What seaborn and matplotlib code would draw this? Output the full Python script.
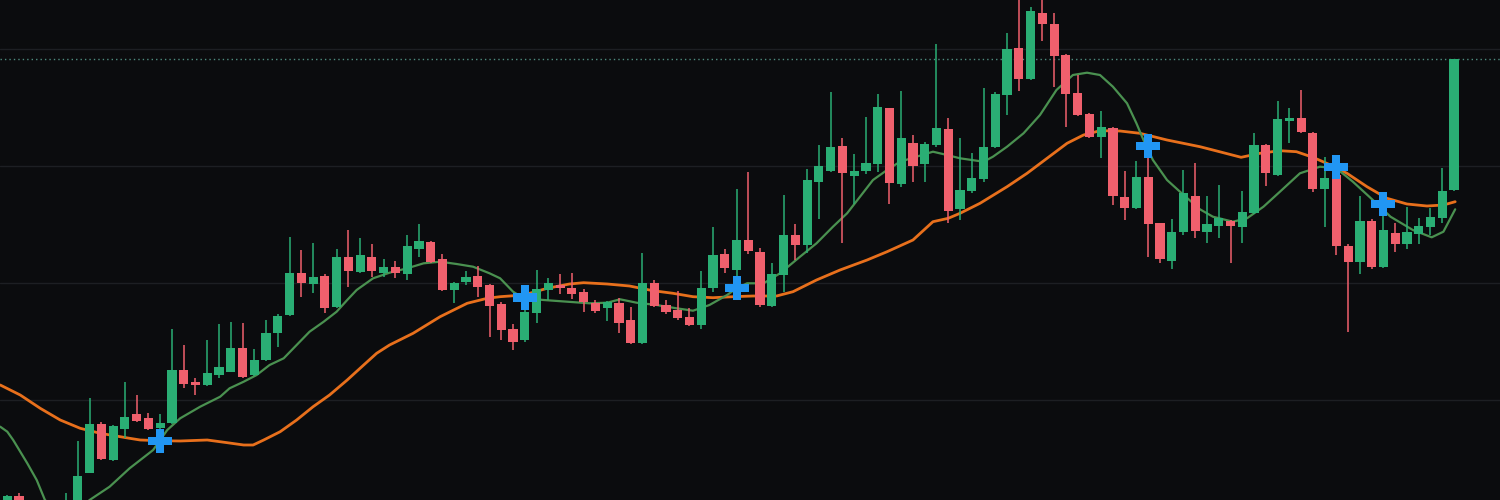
import numpy as np
import pandas as pd
import matplotlib
matplotlib.use("Agg")
import matplotlib.pyplot as plt
import seaborn as sns

# ---- data (price units) ----
opens = [-5, 4, -10, -30, -15, -20, -3, 27.3, 75.7, 40, 71.5, 85.7, 81.7, 72.3, 77.3, 130, 118.3, 114.7, 125.3, 128.5,
         151.7, 125, 140, 167, 184.7, 227.3, 215.7, 224.3, 192.7, 243.3, 228.3, 243.3, 226.7, 233.3, 226, 250.7, 258.3, 240.7, 210, 217.7,
         224, 215, 196, 170.7, 160, 186.7, 210, 215, 212.3, 208.3, 196.7, 191.7, 196.7, 180, 157.3, 216.7, 195, 190, 182.7, 175,
         212, 246.3, 230.3, 260, 248.3, 194, 225, 265, 255, 318.3, 329.3, 354, 324, 329.3, 336, 391.7, 316, 357.3, 336, 355,
         370.7, 290.7, 309.3, 321, 353.3, 405, 451.7, 421, 487.3, 476, 445, 407.3, 385.7, 363.3, 372.3, 303.3, 291.7, 322.7, 276.7, 239.3,
         268, 303.7, 267.7, 274.3, 279.3, 273.3, 286.7, 355, 325, 379.3, 381.7, 367.3, 310.7, 325, 254, 238.3, 279.3, 232.7, 267.3, 256,
         266, 273.3, 281.7, 310]
highs = [5, 6.7, -5, -8, -10, 6.7, 59, 102.3, 78.3, 75, 118.3, 105, 86.7, 85.7, 170.7, 155, 122.3, 160, 176, 178.5,
         177.3, 150.7, 180, 186, 263.3, 250, 256.7, 226, 250.7, 270, 261.7, 255.7, 241.3, 239, 265, 276, 259.3, 246, 218, 229.3,
         234, 216, 198.3, 176, 200, 230, 221.7, 226, 227.3, 210.7, 200, 199, 201.7, 193.3, 247.3, 220, 200, 209.3, 191.7, 229.3,
         272.7, 251.2, 310.7, 328.3, 251.7, 236.7, 305, 276, 330.7, 355, 408.3, 361.7, 346, 383.3, 406, 392, 409.3, 365, 358.3, 456,
         381.7, 361.7, 346.7, 411.7, 408, 466.7, 510, 493.3, 505, 487.3, 446, 425, 386.7, 389.3, 373, 329.3, 339.3, 345, 277.5, 280.7,
         329.8, 336.7, 304, 315, 280, 309.3, 367.3, 356, 399.3, 391.7, 410, 368, 343.3, 335, 256, 304, 281, 290, 276.7, 293.3,
         282.3, 291.7, 331.7, 441]
lows = [-8, -6, -30, -35, -32, -24, -6, 27, 40, 39, 61.7, 78, 70, 68, 76, 111.7, 105, 114, 121.7, 128,
        122, 124, 139, 153.3, 184, 203.3, 207.3, 187.3, 192, 212.7, 227, 222.7, 223.3, 222.3, 220, 243.3, 237, 209, 196.7, 215,
        203.3, 163.3, 160, 150, 158, 176.7, 200, 206, 201, 188.3, 187.3, 179, 166.7, 156, 156, 193, 186, 180, 174, 170.7,
        208.5, 227, 215, 246, 193.3, 193, 208.3, 240, 246.7, 280.7, 328, 256.7, 296, 326, 328.3, 296, 312.7, 318.3, 318.3, 353.3,
        276.7, 280, 307, 318.3, 352, 385, 409.3, 420, 459.3, 412.7, 373.3, 384, 361.7, 341.7, 295, 280, 291, 243.3, 236.7, 230.7,
        265, 262, 256.7, 262.3, 236.7, 256.7, 286, 314.3, 324, 357.3, 367, 308.3, 273.3, 245, 168.3, 226, 231, 231.7, 248.3, 250.7,
        256, 265, 276.7, 309]
closes = [4, -3, -25, -15, -28, -5, 24, 75.7, 40.7, 74, 83.3, 79.3, 71.3, 77.3, 130, 116, 114.7, 127.3, 132.7, 151.7,
          122.7, 140, 166.7, 184, 227.3, 216.7, 223.3, 192.5, 243.3, 228.7, 245, 228.7, 233.3, 226.7, 254, 259.3, 238.3, 210, 217.3, 222.7,
          212.7, 194, 170, 158.3, 188.3, 210.7, 216.7, 211.7, 206, 198.3, 189.3, 198.3, 177.3, 157.3, 217.3, 194, 188.3, 181.7, 175, 211.7,
          245, 231.7, 259.7, 249.3, 195, 226, 265, 255, 320, 334, 353.3, 326.7, 329.3, 337.3, 392.7, 317.3, 361.7, 334, 356, 372.3,
          289.3, 310, 322.3, 353.3, 406, 450.7, 421, 489.3, 476, 444, 406, 385, 362.7, 373.3, 304, 291.7, 322.7, 276, 240.7, 268.3,
          306.7, 269.5, 275.7, 281.7, 274.3, 287.7, 355, 326.7, 380.7, 381.7, 368.3, 310.7, 322.3, 254.3, 238.3, 279.3, 232.7, 270, 256, 268.3,
          274, 283.3, 309, 440.7]

# fast moving average (green), sampled along the bar axis
ma_fast_bar = [-0.6, 0.0, 0.5, 1.7, 2.5, 3.2, 5.1, 7.0, 8.7, 10.4, 12.4, 13.6, 14.7, 16.4, 18.1, 18.9, 20.1, 21.2, 22.3, 23.5,
               24.6, 25.7, 26.9, 28.0, 28.9, 29.7, 31.1, 32.5, 34.0, 35.4, 36.8, 38.2, 39.6, 41.0, 41.9, 43.0, 43.9, 45.6, 47.6, 49.5,
               51.0, 52.1, 53.5, 55.2, 56.9, 58.3, 59.7, 61.2, 62.0, 62.9, 64.3, 65.7, 67.4, 68.8, 70.2, 71.4, 72.5, 73.6, 74.8, 75.9,
               77.3, 78.7, 79.9, 81.0, 83.0, 83.8, 85.0, 86.4, 87.8, 89.2, 90.6, 91.8, 92.9, 94.0, 95.2, 96.0, 96.6, 97.4, 98.6, 99.7,
               101.4, 102.5, 104.2, 105.4, 106.8, 108.2, 109.9, 111.6, 113.0, 114.4, 116.1, 117.6, 119.5, 121.1, 122.1, 123.1]
ma_fast_val = [73.3, 68.3, 60, 36.7, 20, 0, -20, 0, 13.3, 31.7, 50, 70, 81.7, 93.3, 103.3, 111.7, 118.3, 125, 135, 141.7,
               155, 168.3, 178.3, 188.3, 200, 210, 221.7, 227.3, 231.7, 236.7, 238.3, 236, 233.3, 226.7, 221.7, 208.3, 201.7, 200, 198.3, 196.7,
               197.3, 200.7, 197.3, 195, 191.7, 189.3, 195, 205, 211.7, 216.7, 216.7, 226.7, 243.3, 256.7, 273.3, 286.7, 303.3, 320, 330, 338.3,
               343.3, 348.3, 345, 341.7, 338.3, 343.3, 353.3, 366.7, 385, 410, 425, 427.3, 425, 413.3, 396.7, 376.7, 360, 340, 320, 308.3,
               290.7, 283.3, 278.3, 281.7, 293.3, 308.3, 326.7, 333.3, 331.7, 318.3, 300, 283.3, 270, 262.7, 268.3, 290.7]

# slow moving average (orange)
ma_slow_bar = [-0.6, 1.1, 2.8, 4.5, 6.2, 7.9, 10.4, 11.3, 13.0, 14.7, 17.0, 18.7, 20.1, 20.9, 21.8, 23.2, 24.6, 26.0, 27.4, 28.9,
               30.3, 31.4, 32.5, 34.5, 36.8, 39.1, 40.8, 41.9, 43.9, 45.9, 47.8, 49.0, 51.0, 52.9, 54.9, 56.6, 58.3, 60.0, 61.7, 63.4,
               65.4, 66.8, 68.8, 70.8, 73.1, 74.8, 77.0, 78.7, 80.0, 81.0, 82.7, 85.0, 86.7, 88.4, 90.1, 91.5, 92.9, 94.6, 96.3, 98.6,
               101.4, 102.5, 104.9, 106.5, 108.2, 109.6, 111.0, 112.5, 113.9, 115.6, 117.3, 119.0, 120.7, 122.1, 123.1]
ma_slow_val = [115, 105, 91.7, 80, 71.7, 66.7, 61.7, 60, 59.3, 59, 60, 57.3, 55, 55, 60, 68.3, 80, 93.3, 105, 120,
               135, 146.7, 155, 166.7, 183.3, 196.7, 201.7, 203.3, 205, 211.7, 216, 217.3, 216, 214, 209.3, 206.7, 203.3, 202.3, 203.3, 204,
               204, 208.3, 220, 230, 240, 248.3, 260, 278.3, 281.7, 286.7, 296.7, 313.3, 326.7, 341.7, 356.7, 365, 369.3, 369, 366.7, 360,
               353.3, 350, 342.7, 346.7, 349.3, 348.3, 342.7, 335, 326.7, 313.3, 301.7, 296, 294, 295, 298.3]

# crossover signals
signal_bar = [13, 44, 62, 97, 113, 117]
signal_val = [59, 202.5, 212, 354, 333, 296]

grid_levels = [100.5, 217.5, 334.5, 451.5]

# ---- styling ----
BG = "#0b0c0e"
UP = "#2aae74"
DOWN = "#f0606d"
sns.set_theme(style="dark", rc={"axes.facecolor": BG, "figure.facecolor": BG})

df = pd.DataFrame({"bar": np.arange(len(opens)), "open": opens, "high": highs,
                   "low": lows, "close": closes})
df["up"] = df["close"] >= df["open"]
df["color"] = np.where(df["up"], UP, DOWN)
df["body_lo"] = df[["open", "close"]].min(axis=1)
df["body_h"] = (df["open"] - df["close"]).abs().clip(lower=1.6)

fast = pd.DataFrame({"bar": ma_fast_bar, "val": ma_fast_val})
slow = pd.DataFrame({"bar": ma_slow_bar, "val": ma_slow_val})
sig = pd.DataFrame({"bar": signal_bar, "val": signal_val})

fig = plt.figure(figsize=(15, 5), dpi=100)
ax = fig.add_axes([0, 0, 1, 1])
ax.set_facecolor(BG)

for g in grid_levels:
    ax.axhline(g, color="#1d1f23", lw=1.0, zorder=0)
ax.axhline(closes[-1], color="#4f8c80", lw=1.0, ls=(0, (1, 2.2)), zorder=0.5)

sns.lineplot(data=slow, x="bar", y="val", sort=False, color="#e8701c", lw=2.0, ax=ax, zorder=1)
sns.lineplot(data=fast, x="bar", y="val", sort=False, color="#4a9150", lw=1.6, ax=ax, zorder=1)

ax.vlines(df["bar"], df["low"], df["high"], colors=df["color"], lw=1.1, zorder=2)
ax.bar(df["bar"], df["body_h"], bottom=df["body_lo"], width=0.78, color=df["color"],
       linewidth=0, zorder=3)

sns.scatterplot(data=sig, x="bar", y="val", marker="P", s=300, color="#2196f3",
                edgecolor="none", linewidth=0, ax=ax, zorder=5)

ax.set_xlim(-0.62, 126.91)
ax.set_ylim(0, 500)
ax.set_xlabel("")
ax.set_ylabel("")
ax.set_xticks([])
ax.set_yticks([])
for s in ax.spines.values():
    s.set_visible(False)
ax.grid(False)

fig.savefig("out.png", dpi=100, facecolor=BG)
